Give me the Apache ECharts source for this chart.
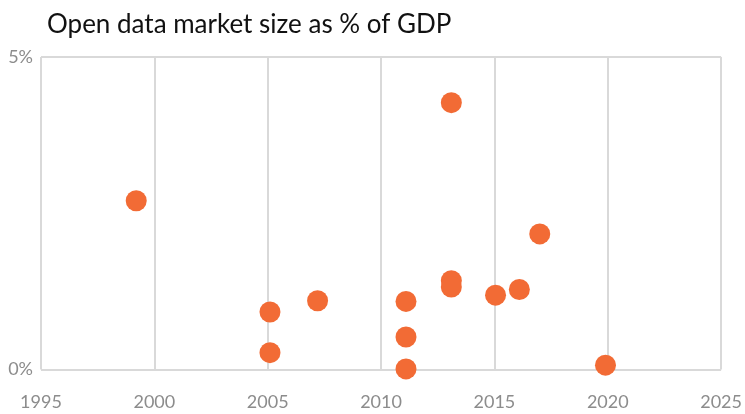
<!DOCTYPE html>
<html>
<head>
<meta charset="utf-8">
<script src="https://cdn.jsdelivr.net/npm/echarts@6/dist/echarts.min.js"></script>
<style>
  html, body { margin: 0; padding: 0; background: #fff; }
  #main { width: 745px; height: 414px; }
</style>
</head>
<body>
<div id="main"></div>
<script>
// study year and estimated market size (% of GDP)
var years = [1999.2, 2005.1, 2005.1, 2007.2, 2011.1, 2011.1, 2011.1, 2013.1, 2013.1, 2013.1, 2015.05, 2016.1, 2017.0, 2019.9];
var values = [2.70, 0.92, 0.27, 1.10, 1.09, 0.52, 0.01, 4.27, 1.42, 1.32, 1.19, 1.28, 2.17, 0.07];
var yearTicks = [1995, 2025];
var pctTicks = [0, 5];

var points = years.map(function (y, i) { return [y, values[i]]; });

var chart = echarts.init(document.getElementById('main'));
var gridColor = '#d9d9d9';
var labelColor = '#8c8c8c';

var option = {
  backgroundColor: '#ffffff',
  animation: false,
  title: {
    text: 'Open data market size as % of GDP',
    left: 42,
    top: 7,
    textStyle: { fontFamily: 'Lato', fontSize: 26, fontWeight: 'normal', color: '#111' }
  },
  grid: { left: 41, right: 22, top: 57, bottom: 44.5, show: false },
  xAxis: {
    type: 'value',
    min: yearTicks[0],
    max: yearTicks[1],
    interval: 5,
    axisLine: { show: false },
    axisTick: { show: false },
    splitLine: { show: true, lineStyle: { color: gridColor, width: 2 } },
    axisLabel: {
      margin: 24,
      fontFamily: 'Lato',
      fontSize: 18,
      color: labelColor,
      formatter: function (v) { return String(v); }
    }
  },
  yAxis: {
    type: 'value',
    min: pctTicks[0],
    max: pctTicks[1],
    interval: 5,
    axisLine: { show: false },
    axisTick: { show: false },
    splitLine: { show: true, lineStyle: { color: gridColor, width: 2 } },
    axisLabel: {
      margin: 8,
      fontFamily: 'Lato',
      fontSize: 18,
      color: labelColor,
      formatter: '{value}%'
    }
  },
  series: [{
    type: 'scatter',
    data: points,
    symbolSize: 21,
    itemStyle: { color: '#f26b35', opacity: 1 }
  }]
};

chart.setOption(option);
</script>
</body>
</html>
